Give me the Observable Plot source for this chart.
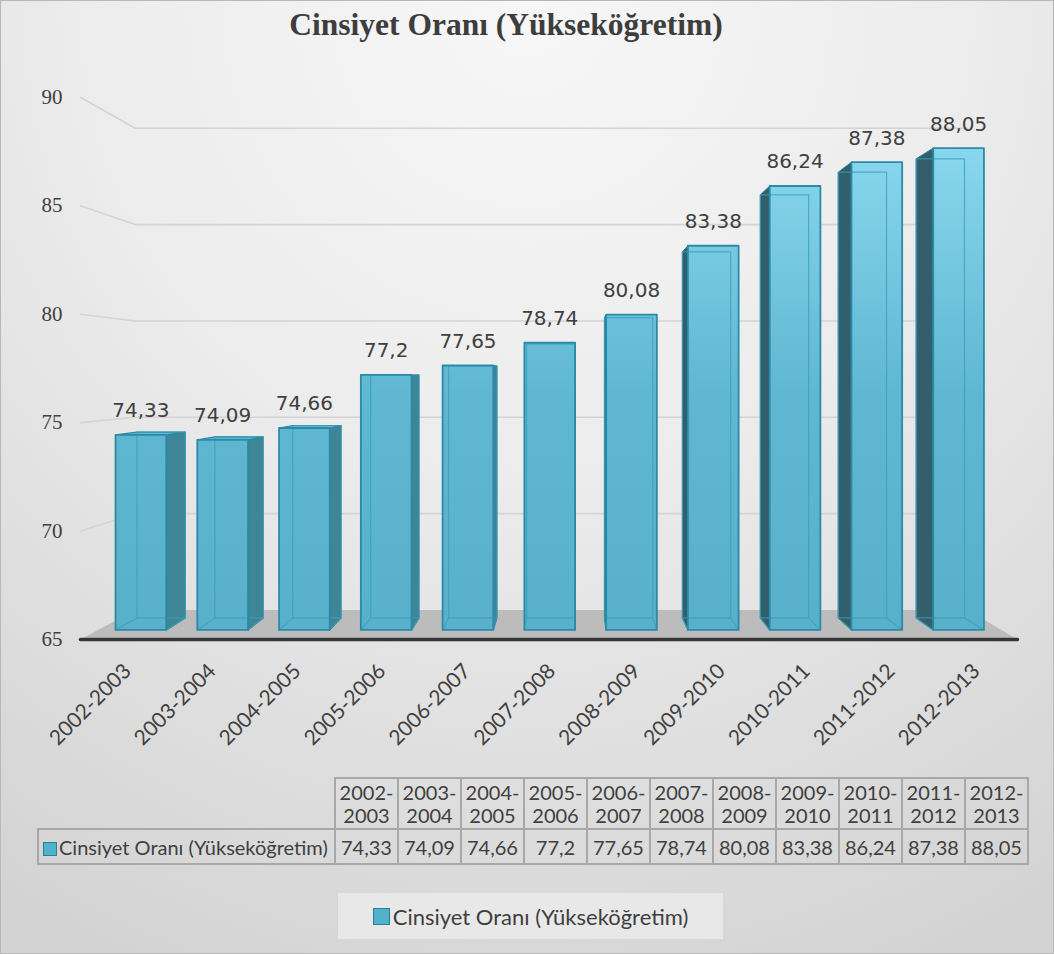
<!DOCTYPE html>
<html><head><meta charset="utf-8">
<script src="https://cdn.jsdelivr.net/npm/d3@7"></script>
<script src="https://cdn.jsdelivr.net/npm/@observablehq/plot@0.6"></script>
<style>
html,body{margin:0;padding:0;background:#fff;}
body{width:1054px;height:954px;overflow:hidden;}
#frame{position:relative;width:1052px;height:952px;border:1px solid #b8b8b8;
  background:radial-gradient(ellipse 95% 110% at 50% 0%, #f7f7f7 0%, #ececec 45%, #dcdcdc 80%, #d3d3d3 100%);overflow:hidden;}
#title{position:absolute;left:0;width:1010px;top:6px;text-align:center;font-family:"Liberation Serif";font-weight:bold;font-size:31.5px;color:#3d3d3d;}
#chart{position:absolute;left:-1px;top:-1px;}
#dtable{position:absolute;left:36px;top:776px;width:992px;table-layout:fixed;border-collapse:collapse;font-family:Lato;font-size:20px;color:#3f3f3f;}
#dtable td{border:2px solid #a8a8a8;text-align:center;padding:0;overflow:hidden;}
#dtable tr.h td{height:49px;line-height:23px;}
#dtable tr.d td{height:33px;}
#dtable td.blank{border:none;border-right:2px solid #a8a8a8;border-bottom:2px solid #a8a8a8;}
#dtable td.name{text-align:left;padding-left:4px;white-space:nowrap;}
.mk{display:inline-block;width:12px;height:12px;background:#4fb3cc;border:1px solid #2b7f95;vertical-align:-1px;margin-right:2px;}
#legend{position:absolute;left:337px;top:892px;width:385px;height:46px;background:#e8e8e8;font-family:Lato;font-size:22px;color:#3f3f3f;
  display:flex;align-items:center;justify-content:center;}
#legend .mk{width:15px;height:15px;margin-right:3px;}
</style></head>
<body>
<div id="frame">
  <div id="chart"></div>
  <div id="title"></div>
  <table id="dtable"></table>
  <div id="legend"></div>
</div>
<script>
// ---- data ----
const categories = ["2002-2003","2003-2004","2004-2005","2005-2006","2006-2007","2007-2008","2008-2009","2009-2010","2010-2011","2011-2012","2012-2013"];
const values = [74.33, 74.09, 74.66, 77.2, 77.65, 78.74, 80.08, 83.38, 86.24, 87.38, 88.05];
const yTicks = [65, 70, 75, 80, 85, 90];
const seriesName = "Cinsiyet Oranı (Yükseköğretim)";
const chartTitle = "Cinsiyet Oranı (Yükseköğretim)";

// ---- 3D projection settings (style) ----
const VP = {x: 5.25, y: 77.2};      // vanishing point in data units
const HALF = 0.31;                  // half bar width (band units)
const D_BACK = 0.047;               // depth of bar back face
const D_WALL = 0.078;               // depth of back wall
const D_AXIS = -0.038;              // depth of axis / floor front edge
const FLOOR_L = -0.52, FLOOR_R = 10.52;
const yBase = yTicks[0];

const fmt = v => String(v).replace(".", ",");
const proj = (x, y, d) => ({x: x + (VP.x - x) * d, y: y + (VP.y - y) * d});
const poly = (id, pts) => pts.map(p => ({id, ...proj(p[0], p[1], p[2])}));

const bars = values.map((v, i) => ({i, v, cat: categories[i], label: fmt(v)}));

const frontPts = [], sideR = [], sideL = [], topPts = [], backEdges = [];
for (const b of bars) {
  const x0 = b.i - HALF, x1 = b.i + HALF, y0 = yBase, y1 = b.v;
  frontPts.push(...poly("f" + b.i, [[x0,y0,0],[x1,y0,0],[x1,y1,0],[x0,y1,0]]));
  if (b.i < VP.x) sideR.push(...poly("s" + b.i, [[x1,y0,0],[x1,y1,0],[x1,y1,D_BACK],[x1,y0,D_BACK]]));
  else sideL.push(...poly("s" + b.i, [[x0,y0,0],[x0,y1,0],[x0,y1,D_BACK],[x0,y0,D_BACK]]));
  if (b.v < VP.y) topPts.push(...poly("t" + b.i, [[x0,y1,0],[x1,y1,0],[x1,y1,D_BACK],[x0,y1,D_BACK]]));
  backEdges.push(...poly("b" + b.i, [[x0,y0,D_BACK],[x1,y0,D_BACK],[x1,y1,D_BACK],[x0,y1,D_BACK],[x0,y0,D_BACK]]));
  backEdges.push(...poly("c" + b.i, [[x0,y0,0],[x0,y0,D_BACK]]));
  backEdges.push(...poly("e" + b.i, [[x1,y0,0],[x1,y0,D_BACK]]));
}

const gridPts = [];
for (const t of yTicks.slice(1)) {
  gridPts.push(...poly("g" + t, [[FLOOR_L, t, D_AXIS],[FLOOR_L, t, D_WALL],[FLOOR_R, t, D_WALL]]));
}
const floorPts = poly("floor", [[FLOOR_L,yBase,D_AXIS],[FLOOR_R,yBase,D_AXIS],[FLOOR_R,yBase,D_WALL],[FLOOR_L,yBase,D_WALL]]);
const axisPts = poly("axis", [[FLOOR_L,yBase,D_AXIS],[FLOOR_R,yBase,D_AXIS]]);
const yLabels = yTicks.map(t => ({...proj(FLOOR_L, t, D_AXIS), label: String(t)}));
const xLabels = bars.map(b => ({...proj(b.i, yBase, D_AXIS), label: b.cat}));

const plot = Plot.plot({
  width: 1054, height: 775, margin: 0,
  x: {type: "linear", domain: [0, categories.length - 1], range: [140.5, 959], axis: null},
  y: {type: "linear", domain: [yBase, 90], range: [630, 107], axis: null},
  style: {background: "transparent", overflow: "visible"},
  marks: [
    Plot.line(gridPts, {x: "x", y: "y", z: "id", stroke: "#d4d4d4", strokeWidth: 1.6}),
    Plot.line(floorPts, {x: "x", y: "y", z: "id", fill: "#bcbcbc", stroke: "none", curve: "linear-closed"}),
    Plot.line(axisPts, {x: "x", y: "y", stroke: "#363636", strokeWidth: 3.5}),
    Plot.line(sideR, {x: "x", y: "y", z: "id", fill: "#3e8598", stroke: "#2d7a8f", strokeWidth: 1, curve: "linear-closed"}),
    Plot.line(sideL, {x: "x", y: "y", z: "id", fill: "#325f6b", stroke: "#2b7f95", strokeWidth: 1, curve: "linear-closed"}),
    Plot.line(topPts, {x: "x", y: "y", z: "id", fill: "#5fb8d1", stroke: "#2b88a2", strokeWidth: 1.2, curve: "linear-closed"}),
    Plot.line(frontPts, {x: "x", y: "y", z: "id", fill: "url(#frontGrad)", stroke: "none", curve: "linear-closed"}),
    Plot.line(backEdges, {x: "x", y: "y", z: "id", stroke: "#3a9fba", strokeWidth: 1.2, strokeOpacity: 0.75}),
    Plot.line(frontPts, {x: "x", y: "y", z: "id", fill: "none", stroke: "#2b8ba6", strokeWidth: 1.8, curve: "linear-closed"}),
    Plot.text(bars, {x: "i", y: "v", text: "label", dy: -24, fontSize: 20, fontFamily: "DejaVu Sans", fill: "#404040"}),
    Plot.text(yLabels, {x: "x", y: "y", text: "label", textAnchor: "end", dx: -18, fontSize: 21, fontFamily: "Liberation Serif", fill: "#404040"}),
    Plot.text(xLabels, {x: "x", y: "y", text: "label", rotate: -45, textAnchor: "end", dx: 3, dy: 28, fontSize: 21, fontFamily: "Lato", fill: "#404040"})
  ]
});

const ys = plot.scale("y");
const defs = `<defs><linearGradient id="frontGrad" gradientUnits="userSpaceOnUse" x1="0" y1="${ys.apply(90)}" x2="0" y2="${ys.apply(yBase)}">
<stop offset="0" stop-color="#8fdcf2"/><stop offset="0.55" stop-color="#5fb7d1"/><stop offset="1" stop-color="#58b0ca"/></linearGradient></defs>`;
plot.insertAdjacentHTML("afterbegin", defs);
document.getElementById("chart").appendChild(plot);

document.getElementById("title").textContent = chartTitle;

// data table
const tbl = document.getElementById("dtable");
const cols = '<colgroup><col style="width:297px">' + categories.map(() => '<col style="width:63px">').join("") + '</colgroup>';
const head = '<tr class="h"><td class="blank"></td>' + categories.map(c => {
  const [a, b] = c.split("-");
  return `<td>${a}-<br>${b}</td>`;
}).join("") + "</tr>";
const row = `<tr class="d"><td class="name"><span class="mk"></span>${seriesName}</td>` + values.map(v => `<td>${fmt(v)}</td>`).join("") + "</tr>";
tbl.innerHTML = cols + head + row;

document.getElementById("legend").innerHTML = `<span class="mk"></span>${seriesName}`;
</script>
</body></html>
